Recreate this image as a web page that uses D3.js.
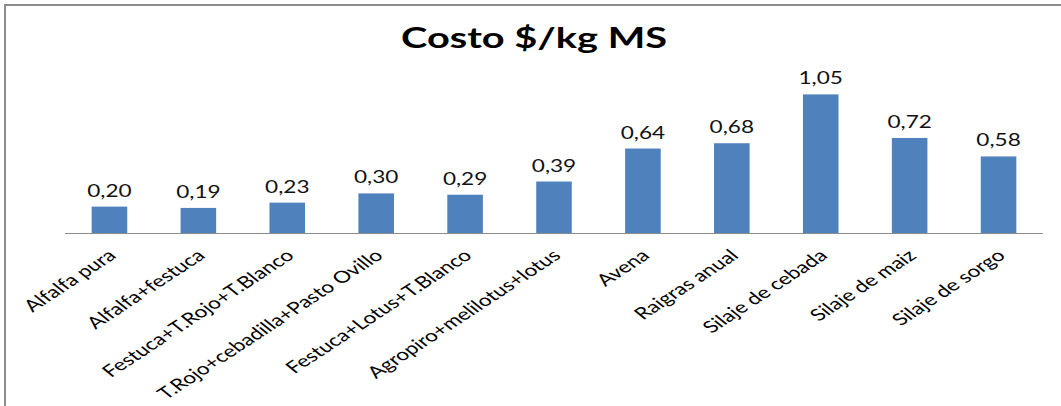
<!DOCTYPE html>
<html>
<head>
<meta charset="utf-8">
<script src="https://cdn.jsdelivr.net/npm/d3@7"></script>
<style>
  body { margin: 0; background: #fff; }
  svg { display: block; }
</style>
</head>
<body>
<div id="grafico"></div>
<script>
var categorias = ["Alfalfa pura", "Alfalfa+festuca", "Festuca+T.Rojo+T.Blanco",
  "T.Rojo+cebadilla+Pasto Ovillo", "Festuca+Lotus+T.Blanco", "Agropiro+melilotus+lotus",
  "Avena", "Raigras anual", "Silaje de cebada", "Silaje de maiz", "Silaje de sorgo"];
var costos = [0.20, 0.19, 0.23, 0.30, 0.29, 0.39, 0.64, 0.68, 1.05, 0.72, 0.58];
var titulo = "Costo $/kg MS";

function graficarBarras(){
	var width = 1061, height = 406;
	var estirar = 1.37; // la imagen original esta estirada a lo ancho
	var fmt = function(v){ return d3.format(".2f")(v).replace(".", ","); };

	var svg = d3.select("#grafico")
				.append("svg")
				.attr("width", width)
				.attr("height", height);

	// marco del grafico
	svg.append("rect")
		.attr("x", 5).attr("y", 5)
		.attr("width", 1200).attr("height", 600)
		.attr("fill", "#fff")
		.attr("stroke", "#8c8c8c")
		.attr("stroke-width", 2);

	svg.append("text")
		.text(titulo)
		.attr("transform", "translate(534,48) scale(" + estirar + ",1)")
		.attr("text-anchor", "middle")
		.style("font-family", "Lato")
		.style("font-weight", "bold")
		.style("font-size", "29px")
		.attr("fill", "#000");

	var x = d3.scaleBand()
			  .domain(categorias)
			  .range([65, 1043])
			  .paddingInner(0.6)
			  .paddingOuter(0.3);

	var y = d3.scaleLinear()
			  .domain([0, 1.2])
			  .range([233, 74.6]);

	svg.selectAll(".barra")
		.data(costos)
		.enter()
		.append("rect")
		.attr("class", "barra")
		.attr("x", function(d, i){ return x(categorias[i]); })
		.attr("y", function(d){ return y(d); })
		.attr("width", x.bandwidth())
		.attr("height", function(d){ return y(0) - y(d); })
		.attr("fill", "#4f81bd");

	// etiquetas de valor
	svg.selectAll(".valor")
		.data(costos)
		.enter()
		.append("text")
		.attr("class", "valor")
		.text(fmt)
		.attr("transform", function(d, i){
			return "translate(" + (x(categorias[i]) + x.bandwidth() / 2) + "," + (y(d) - 10) + ") scale(" + estirar + ",1)";
		})
		.attr("text-anchor", "middle")
		.style("font-family", "Lato")
		.style("font-size", "16.5px")
		.attr("fill", "#111");

	// eje x
	var eje = svg.append("g")
				 .attr("transform", "translate(0," + y(0) + ")")
				 .call(d3.axisBottom(x).tickSize(0).tickSizeOuter(0));
	eje.select(".domain")
		.attr("stroke", "#8c8c8c")
		.attr("d", "M65,0.5H1043");
	eje.selectAll("text")
		.attr("y", 0).attr("dy", 0)
		.attr("text-anchor", "end")
		.attr("transform", "translate(8,24) scale(" + estirar + ",1) rotate(-42)")
		.style("font-family", "Lato")
		.style("font-size", "16.5px")
		.attr("fill", "#000");
}

graficarBarras();
</script>
</body>
</html>
